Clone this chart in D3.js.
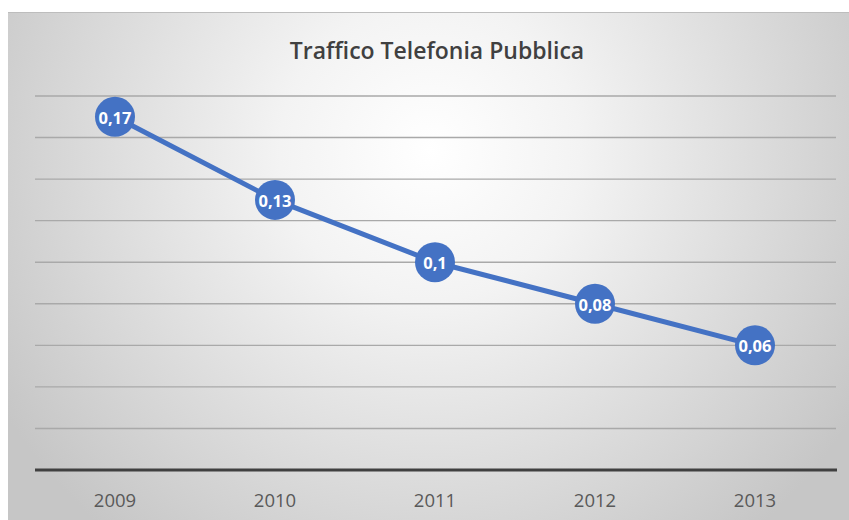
<!DOCTYPE html>
<html><head><meta charset="utf-8">
<script src="https://cdn.jsdelivr.net/npm/d3@7"></script>
<style>body{margin:0;background:#fff}svg{display:block}</style>
</head><body>
<script>
const categories = ["2009","2010","2011","2012","2013"];
const values = [0.17, 0.13, 0.1, 0.08, 0.06];
const labels = ["0,17","0,13","0,1","0,08","0,06"];
const yTicks = [0,0.02,0.04,0.06,0.08,0.1,0.12,0.14,0.16,0.18];
const title = "Traffico Telefonia Pubblica";

const W=849,H=520;
const svg=d3.select("body").append("svg").attr("width",W).attr("height",H);
const defs=svg.append("defs");
const rg=defs.append("radialGradient").attr("id","bg").attr("gradientUnits","userSpaceOnUse")
 .attr("cx",430).attr("cy",150).attr("r",500);
rg.append("stop").attr("offset","0").attr("stop-color","#ffffff");
rg.append("stop").attr("offset","0.3").attr("stop-color","#f3f3f3");
rg.append("stop").attr("offset","1").attr("stop-color","#c6c6c6");
svg.append("rect").attr("x",8).attr("y",12).attr("width",W-8).attr("height",H-12).attr("fill","url(#bg)");
svg.append("line").attr("x1",8).attr("x2",W).attr("y1",12.5).attr("y2",12.5).attr("stroke","#bdbdbd").attr("stroke-width",1);

const x=d3.scaleBand().domain(categories).range([35,835]);
const y=d3.scaleLinear().domain([0,0.18]).range([470,96]);

const g=svg.append("g");
g.selectAll("line.grid").data(yTicks.slice(1)).join("line").attr("class","grid")
 .attr("x1",35).attr("x2",836).attr("y1",d=>y(d)).attr("y2",d=>y(d))
 .attr("stroke","#a9a9a9").attr("stroke-width",1.4);
g.append("line").attr("x1",35).attr("x2",837).attr("y1",y(0)).attr("y2",y(0))
 .attr("stroke","#404040").attr("stroke-width",3);

const xAxis=d3.axisBottom(x).tickSize(0).tickPadding(0);
const ax=svg.append("g").attr("transform",`translate(0,${y(0)})`).call(xAxis);
ax.select(".domain").remove();
ax.selectAll("text").attr("y",37).attr("dy",0).attr("fill","#595959")
 .attr("font-family","'Open Sans', sans-serif").attr("font-size",18.5);

svg.append("text").attr("x",437).attr("y",59).attr("text-anchor","middle")
 .attr("font-family","'Open Sans', sans-serif").attr("font-weight",600).attr("font-size",23)
 .attr("fill","#404040").text(title);

const cx=d=>x(d)+x.bandwidth()/2;
const line=d3.line().x((d,i)=>cx(categories[i])).y(d=>y(d));
svg.append("path").datum(values).attr("d",line).attr("fill","none")
 .attr("stroke","#4472c4").attr("stroke-width",5).attr("stroke-linejoin","round");
svg.selectAll("circle.pt").data(values).join("circle").attr("class","pt")
 .attr("cx",(d,i)=>cx(categories[i])).attr("cy",d=>y(d)).attr("r",20).attr("fill","#4472c4");
svg.selectAll("text.lbl").data(values).join("text").attr("class","lbl")
 .attr("x",(d,i)=>cx(categories[i])).attr("y",d=>y(d)+7).attr("text-anchor","middle")
 .attr("font-family","'Open Sans', sans-serif").attr("font-weight",700).attr("font-size",16.5)
 .attr("fill","#fff").text((d,i)=>labels[i]);
</script>
</body></html>
